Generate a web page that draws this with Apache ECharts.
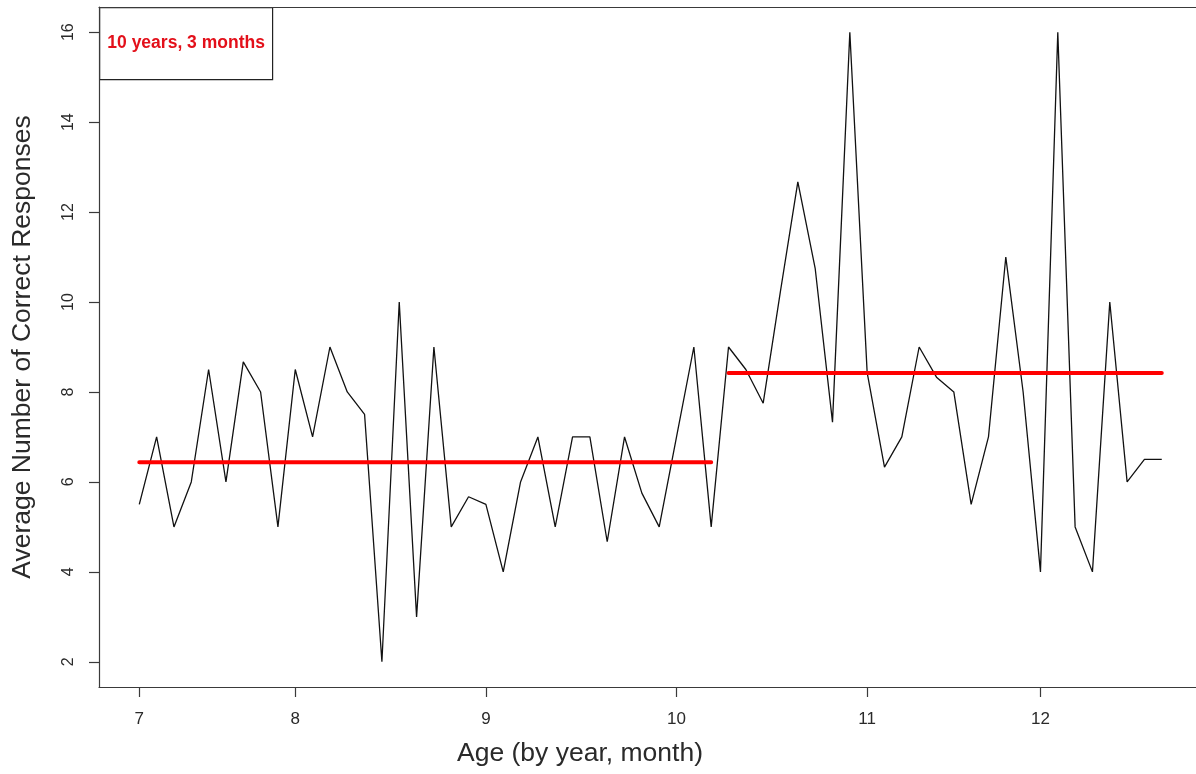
<!DOCTYPE html>
<html>
<head>
<meta charset="utf-8">
<script src="https://cdn.jsdelivr.net/npm/echarts@6/dist/echarts.min.js"></script>
<style>
  html, body { margin: 0; padding: 0; background: #fff; }
  #chart { width: 1196px; height: 774px; }
</style>
</head>
<body>
<div id="chart"></div>
<script>
// Average correct responses, one point per available (year, month) age step
const scores = [
  5.5, 7, 5, 6, 8.5, 6, 8.67, 8, 5,
  8.5, 7, 9, 8, 7.5, 2, 10, 3, 9, 5, 5.67,
  5.5, 4, 6, 7, 5, 7, 7, 4.67, 7, 5.75, 5,
  7, 9, 5, 9, 8.5, 7.75, 10.25, 12.67, 10.75, 7.33, 16,
  8.43, 6.33, 7, 9, 8.33, 8, 5.5, 7, 11, 8,
  4, 16, 5, 4, 10, 6, 6.5, 6.5
];
// x tick positions (point index where each year begins) and their labels
const yearTickIndex = [0, 9, 20, 31, 42, 52];
const yearTickLabels = ['7', '8', '9', '10', '11', '12'];
// y tick values
const yTicks = [2, 4, 6, 8, 10, 12, 14, 16];
// group means before / from the split at 10 years, 3 months
const splitLabel = '10 years, 3 months';
const beforeRange = [0, 33];
const afterRange = [34, 59];
const meanBefore = 6.44;
const meanAfter = 8.42;

const FONT = "'Liberation Sans', 'Helvetica Neue', Helvetica, Arial, sans-serif";
const FRAME = { color: '#3a3a3a', width: 1.2 };

const chart = echarts.init(document.getElementById('chart'), null, { renderer: 'canvas' });

const lineData = scores.map((v, i) => [i, v]);
const meanData = [
  [beforeRange[0], meanBefore], [beforeRange[1], meanBefore],
  [null, null],
  [afterRange[0], meanAfter], [afterRange[1], meanAfter]
];

chart.setOption({
  animation: false,
  backgroundColor: '#ffffff',
  grid: {
    left: 99, top: 7, width: 1097, height: 680,
    show: false
  },
  xAxis: [
    {
      type: 'value',
      position: 'bottom',
      min: -2.325, max: 60.975,
      axisLine: { show: true, onZero: false, lineStyle: FRAME },
      splitLine: { show: false },
      axisTick: {
        show: true, length: 10, inside: false,
        customValues: yearTickIndex,
        lineStyle: FRAME
      },
      axisLabel: {
        customValues: yearTickIndex,
        formatter: function (v) {
          const k = yearTickIndex.indexOf(Math.round(v));
          return k >= 0 ? yearTickLabels[k] : '';
        },
        margin: 24,
        fontSize: 17, color: '#2a2a2a', fontFamily: FONT
      },
      name: 'Age (by year, month)',
      nameLocation: 'middle',
      nameGap: 53,
      nameTextStyle: { fontSize: 26.5, color: '#2a2a2a', fontFamily: FONT, padding: [0, 135, 0, 0] }
    },
    {
      type: 'value',
      position: 'top',
      min: -2.325, max: 60.975,
      axisLine: { show: true, onZero: false, lineStyle: FRAME },
      splitLine: { show: false },
      axisTick: { show: false },
      axisLabel: { show: false }
    }
  ],
  yAxis: {
    type: 'value',
    min: 1.44, max: 16.56,
    axisLine: { show: true, onZero: false, lineStyle: FRAME },
    splitLine: { show: false },
    axisTick: {
      show: true, length: 10, inside: false,
      customValues: yTicks,
      lineStyle: FRAME
    },
    axisLabel: {
      customValues: yTicks,
      rotate: 90,
      margin: 22,
      fontSize: 16, color: '#2a2a2a', fontFamily: FONT
    },
    name: 'Average Number of Correct Responses',
    nameLocation: 'middle',
    nameGap: 63,
    nameTextStyle: { fontSize: 26.5, color: '#2a2a2a', fontFamily: FONT }
  },
  series: [
    {
      name: 'scores',
      type: 'line',
      data: lineData,
      showSymbol: false,
      symbol: 'none',
      lineStyle: { color: '#111111', width: 1.3 },
      z: 2
    },
    {
      name: splitLabel,
      type: 'line',
      data: meanData,
      connectNulls: false,
      showSymbol: false,
      symbol: 'none',
      lineStyle: { color: '#ff0000', width: 4, cap: 'round' },
      z: 3
    }
  ],
  graphic: [
    {
      type: 'group',
      left: 99, top: 7,
      children: [
        {
          type: 'rect',
          shape: { x: 0, y: 0, width: 173, height: 72 },
          style: { fill: '#ffffff', stroke: '#222222', lineWidth: 1.2 }
        },
        {
          type: 'text',
          x: 86.5, y: 36,
          style: {
            text: splitLabel,
            fill: '#e3101a',
            font: "bold 17.5px " + FONT,
            textAlign: 'center',
            textVerticalAlign: 'middle'
          }
        }
      ]
    }
  ]
});
</script>
</body>
</html>
